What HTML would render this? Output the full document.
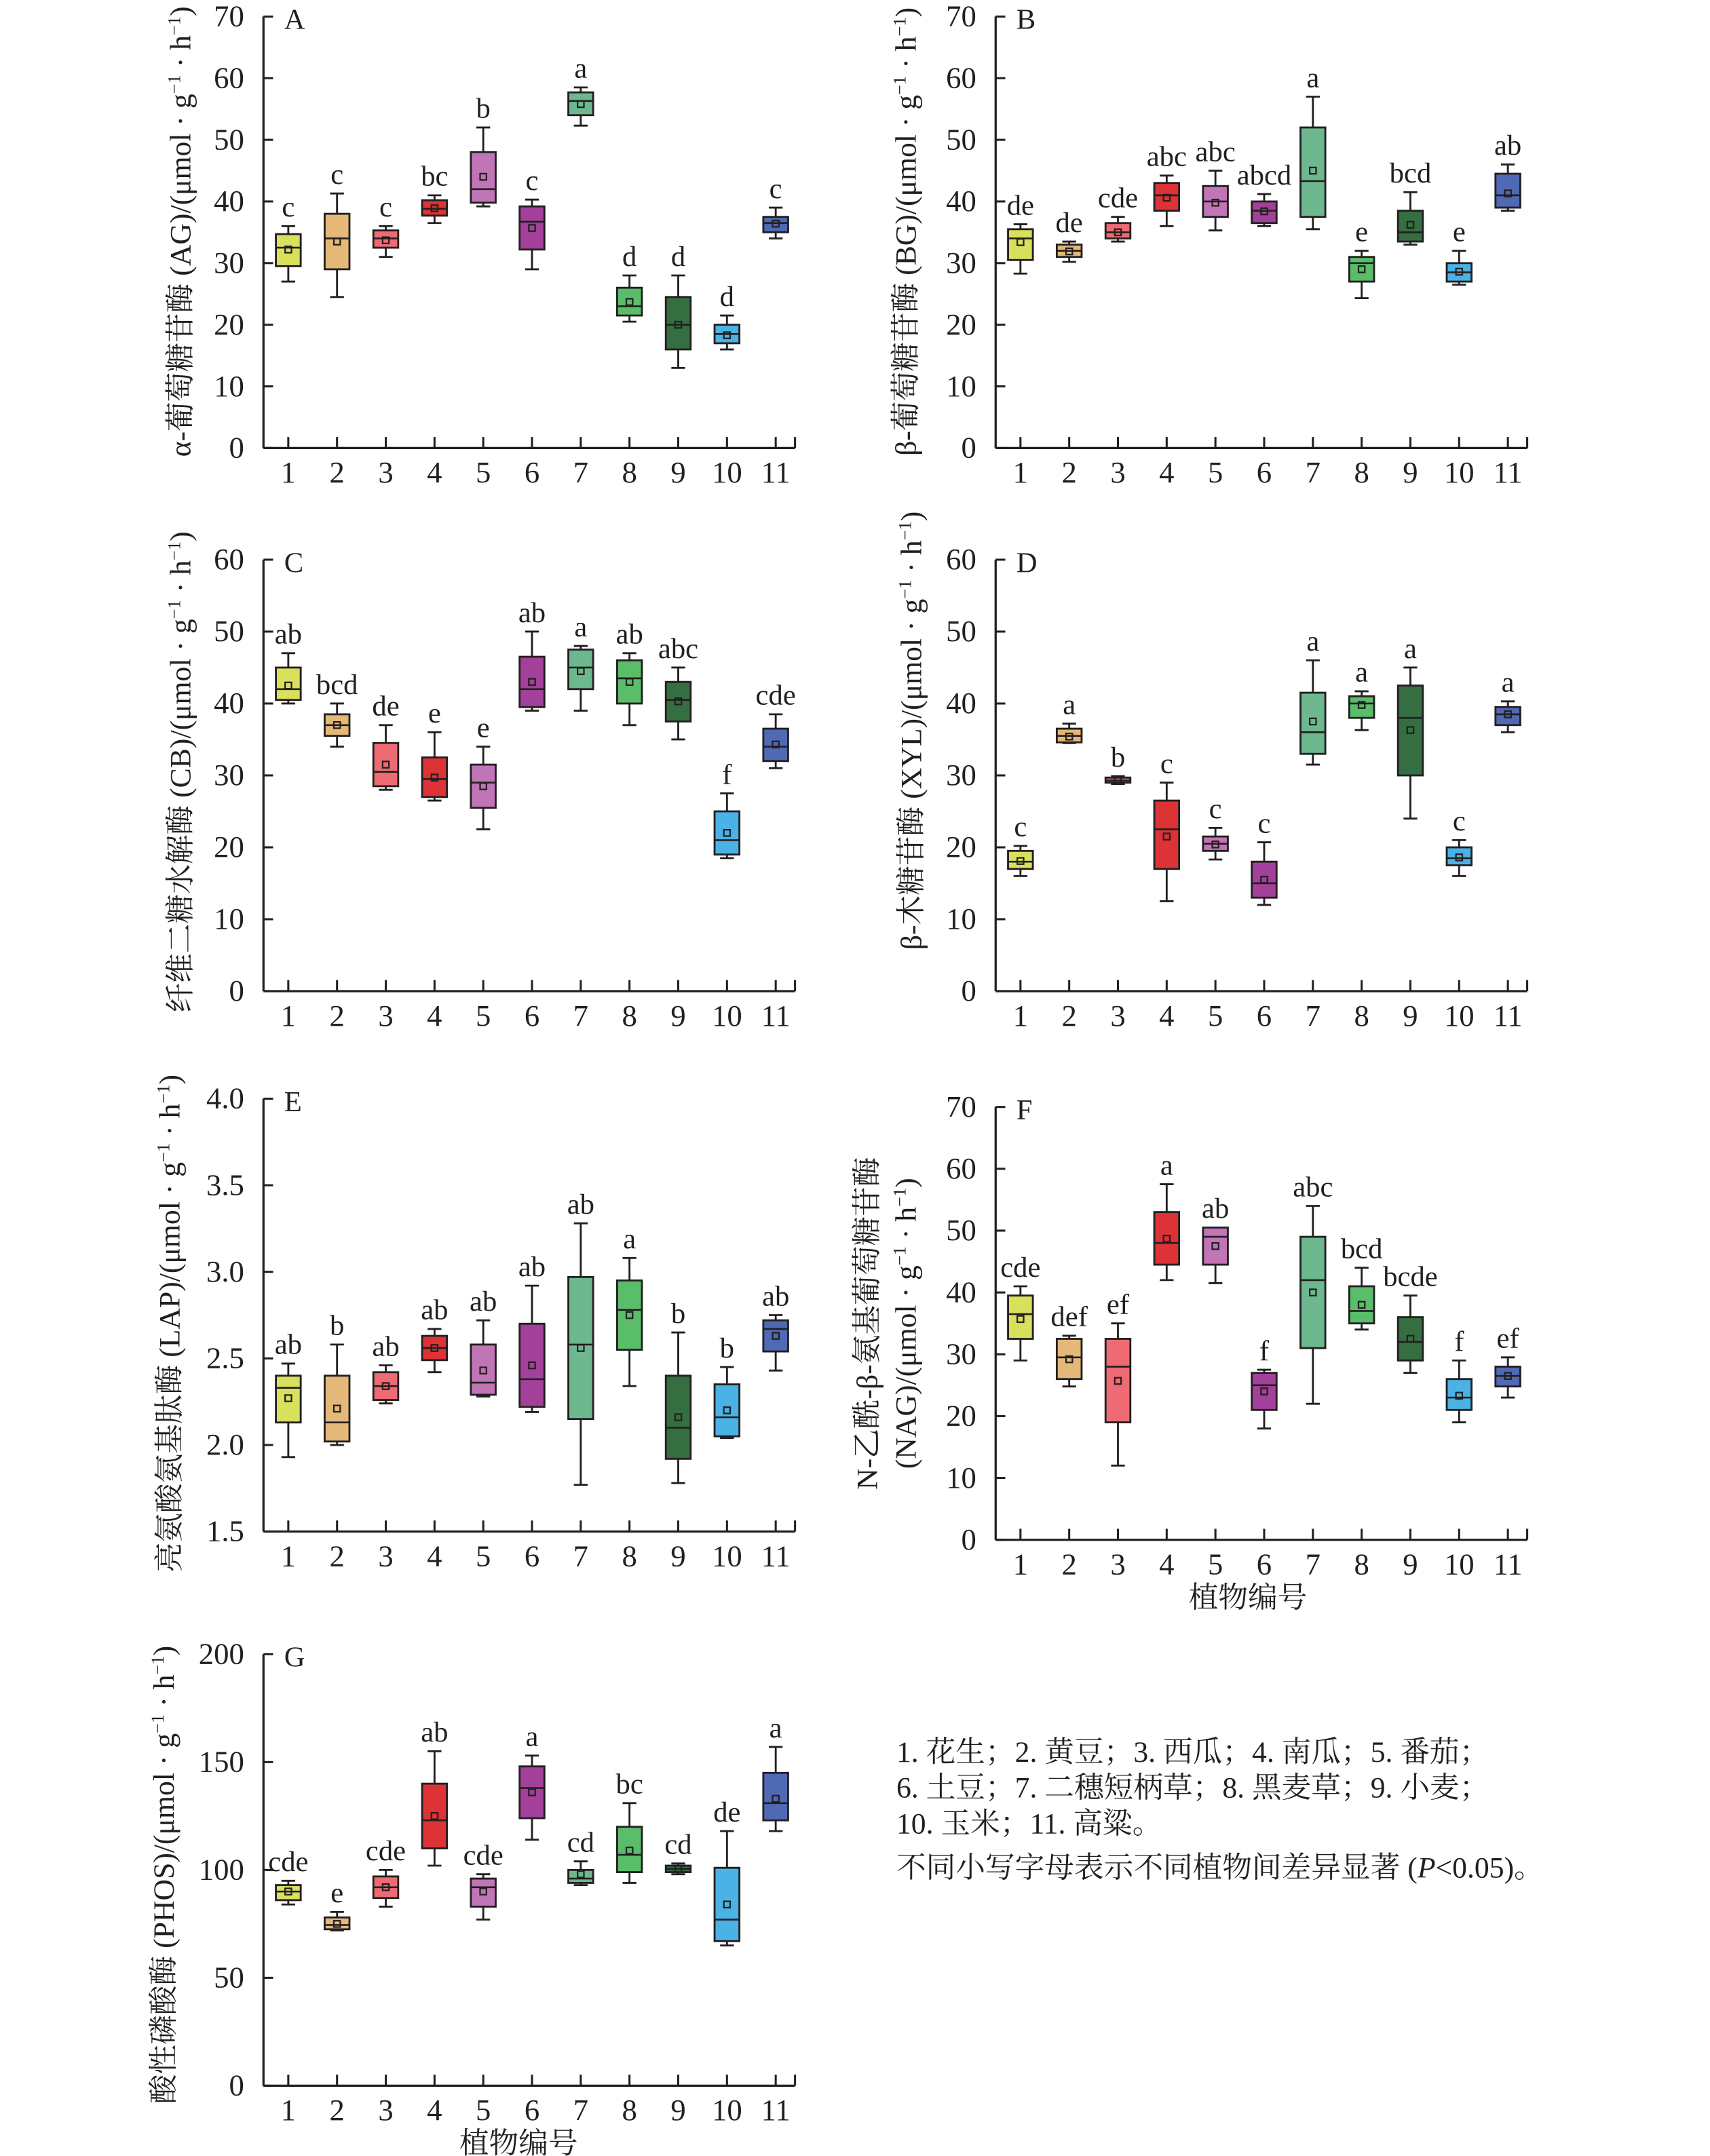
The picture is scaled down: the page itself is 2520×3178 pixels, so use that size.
<!DOCTYPE html>
<html><head><meta charset="utf-8"><style>
html,body{margin:0;padding:0;background:#fff;}
svg{display:block;}
text{font-family:"Liberation Serif","Noto Serif CJK SC","Noto Sans CJK SC",serif;fill:#231f20;}
</style></head><body>
<svg id="s" width="2520" height="3178" viewBox="0 0 1240 1564" xmlns="http://www.w3.org/2000/svg">
<g font-size="21.5">
<text transform="translate(138,168) rotate(-90)" text-anchor="middle">α-葡萄糖苷酶 (AG)/(μmol · g<tspan baseline-shift="super" font-size="13">−1</tspan> · h<tspan baseline-shift="super" font-size="13">−1</tspan>)</text>
<text transform="translate(664,168) rotate(-90)" text-anchor="middle">β-葡萄糖苷酶 (BG)/(μmol · g<tspan baseline-shift="super" font-size="13">−1</tspan> · h<tspan baseline-shift="super" font-size="13">−1</tspan>)</text>
<text transform="translate(138,560) rotate(-90)" text-anchor="middle">纤维二糖水解酶 (CB)/(μmol · g<tspan baseline-shift="super" font-size="13">−1</tspan> · h<tspan baseline-shift="super" font-size="13">−1</tspan>)</text>
<text transform="translate(668,530) rotate(-90)" text-anchor="middle">β-木糖苷酶 (XYL)/(μmol · g<tspan baseline-shift="super" font-size="13">−1</tspan> · h<tspan baseline-shift="super" font-size="13">−1</tspan>)</text>
<text transform="translate(130,960) rotate(-90)" text-anchor="middle">亮氨酸氨基肽酶 (LAP)/(μmol · g<tspan baseline-shift="super" font-size="13">−1</tspan> · h<tspan baseline-shift="super" font-size="13">−1</tspan>)</text>
<text transform="translate(636,960) rotate(-90)" text-anchor="middle">N-乙酰-β-氨基葡萄糖苷酶</text>
<text transform="translate(664,960) rotate(-90)" text-anchor="middle">(NAG)/(μmol · g<tspan baseline-shift="super" font-size="13">−1</tspan> · h<tspan baseline-shift="super" font-size="13">−1</tspan>)</text>
<text transform="translate(126,1360) rotate(-90)" text-anchor="middle">酸性磷酸酶 (PHOS)/(μmol · g<tspan baseline-shift="super" font-size="13">−1</tspan> · h<tspan baseline-shift="super" font-size="13">−1</tspan>)</text>
<text x="905" y="1166" text-anchor="middle">植物编号</text>
<text x="376" y="1562" text-anchor="middle">植物编号</text>
<text x="650" y="1278">1. 花生；2. 黄豆；3. 西瓜；4. 南瓜；5. 番茄；</text>
<text x="650" y="1304">6. 土豆；7. 二穗短柄草；8. 黑麦草；9. 小麦；</text>
<text x="650" y="1330">10. 玉米；11. 高粱。</text>
<text x="650" y="1362">不同小写字母表示不同植物间差异显著 (<tspan font-style="italic">P</tspan>&lt;0.05)。</text>
</g>
<g id="plots"></g>
</svg>
<script>
var C=["#d8e05c","#e3b878","#ef6b73","#dd3236","#c275b6","#a2409a","#6db88e","#5abd6a","#356e40","#4bb2e6","#4f69b5"];
var P=[
{L:"A",ax:191,y0:325,y1:12,v0:0,v1:70,tk:[0,10,20,30,40,50,60,70],f:0,
d:[[27,29.5,32.5,34.7,36,32.2,"c"],[24.5,29,34,38,41.3,33.5,"c"],[31,32.5,34,35.3,36,33.7,"c"],[36.5,37.7,38.8,40.2,41,38.9,"bc"],[39.2,39.8,42,48,52,44,"b"],[29,32.2,36.7,39.2,40.3,35.7,"c"],[52.3,54,56.3,57.7,58.5,55.8,"a"],[20.5,21.5,23,26,28,23.7,"d"],[13,16,20,24.5,28,20,"d"],[16,17,18.5,20,21.5,18.3,"d"],[34,35,36.5,37.5,39,36.4,"c"]]},
{L:"B",ax:722,y0:325,y1:12,v0:0,v1:70,tk:[0,10,20,30,40,50,60,70],f:0,
d:[[28.3,30.5,34,35.5,36.3,33.4,"de"],[30.2,31,32,33,33.5,31.9,"de"],[33.5,34,35,36.5,37.5,35,"cde"],[36,38.5,41,43,44.2,40.6,"abc"],[35.3,37.5,40,42.5,45,39.8,"abc"],[36,36.5,38.5,40,41.2,38.4,"abcd"],[35.5,37.5,43.3,52,57,45,"a"],[24.3,27,30,31,32,29,"e"],[33,33.5,35,38.5,41.5,36.2,"bcd"],[26.5,27,28.5,30,32,28.6,"e"],[38.5,39,41,44.5,46,41.3,"ab"]]},
{L:"C",ax:191,y0:719,y1:406,v0:0,v1:60,tk:[0,10,20,30,40,50,60],f:0,
d:[[40,40.5,42,45,47,42.5,"ab"],[34,35.5,37,38.5,40,37,"bcd"],[28,28.5,30.5,34.5,37,31.5,"de"],[26.5,27,29.5,32.5,36,29.7,"e"],[22.5,25.5,29,31.5,34,28.5,"e"],[39,39.5,42,46.5,50,43,"ab"],[39,42,45,47.5,48,44.5,"a"],[37,40,43.5,46,47,43,"ab"],[35,37.5,40.5,43,45,40.3,"abc"],[18.5,19,21,25,27.5,22,"f"],[31,32,34,36.5,38.5,34.3,"cde"]]},
{L:"D",ax:722,y0:719,y1:406,v0:0,v1:60,tk:[0,10,20,30,40,50,60],f:0,
d:[[16,17,18,19.5,20.2,18.1,"c"],[34.5,34.6,35.5,36.5,37.2,35.4,"a"],[28.8,29,29.3,29.7,29.9,29.3,"b"],[12.5,17,22.5,26.5,29,21.5,"c"],[18.3,19.5,20.5,21.5,22.7,20.4,"c"],[12,13,15,18,20.7,15.5,"c"],[31.5,33,36,41.5,46,37.5,"a"],[36.3,38,40,41,41.7,39.8,"a"],[24,30,38,42.5,45,36.3,"a"],[16,17.5,18.5,20,21,18.6,"c"],[36,37,38.5,39.5,40.3,38.5,"a"]]},
{L:"E",ax:191,y0:1111,y1:797,v0:1.5,v1:4.0,tk:[1.5,2.0,2.5,3.0,3.5,4.0],f:1,
d:[[1.93,2.13,2.33,2.40,2.47,2.27,"ab"],[2.0,2.02,2.13,2.40,2.58,2.21,"b"],[2.24,2.26,2.34,2.42,2.46,2.34,"ab"],[2.42,2.49,2.56,2.63,2.67,2.56,"ab"],[2.28,2.29,2.36,2.58,2.72,2.43,"ab"],[2.19,2.22,2.38,2.70,2.92,2.46,"ab"],[1.77,2.15,2.58,2.97,3.28,2.56,"ab"],[2.34,2.55,2.78,2.95,3.08,2.75,"a"],[1.78,1.92,2.10,2.40,2.65,2.16,"b"],[2.04,2.05,2.16,2.35,2.45,2.20,"b"],[2.43,2.54,2.67,2.72,2.75,2.63,"ab"]]},
{L:"F",ax:722,y0:1117,y1:803,v0:0,v1:70,tk:[0,10,20,30,40,50,60,70],f:0,
d:[[29,32.5,36.5,39.5,41,35.7,"cde"],[24.8,26,29.5,32.5,33,29.2,"def"],[12,19,28,32.5,35,25.7,"ef"],[42,44.5,48,53,57.5,48.7,"a"],[41.5,44.5,49,50.5,50.5,47.5,"ab"],[18,21,25,27,27.5,24,"f"],[22,31,42,49,54,40,"abc"],[34,35,37,41,44,38,"bcd"],[27,29,32,36,39.5,32.5,"bcde"],[19,21,23,26,29,23.3,"f"],[23,24.8,26.5,28,29.5,26.5,"ef"]]},
{L:"G",ax:191,y0:1513,y1:1200,v0:0,v1:200,tk:[0,50,100,150,200],f:0,
d:[[84,86,90,93,95,90,"cde"],[72,72.5,74.5,78,80.5,75,"e"],[83,87,92,97,100,92,"cde"],[102,110,123,140,155,125,"ab"],[77,83,92,96,98,90,"cde"],[114,124,138,148,153,136,"a"],[93,94,96,100,104,98,"cd"],[94,99,107,120,131,109,"bc"],[98,99,100.5,102,103,100.5,"cd"],[65,67,77,101,118,84,"de"],[118,123,131,145,157,133,"a"]]}
];
var ns="http://www.w3.org/2000/svg",G=document.getElementById("plots"),K="#231f20";
function el(t,a,txt){var e=document.createElementNS(ns,t);for(var k in a)e.setAttribute(k,a[k]);if(txt!=null)e.textContent=txt;G.appendChild(e);return e;}
P.forEach(function(p){
 var step=35.35,x1=p.ax+18,xe=x1+10*step+14;
 function Y(v){return p.y0+(v-p.v0)/(p.v1-p.v0)*(p.y1-p.y0);}
 el("line",{x1:p.ax,y1:p.y1,x2:p.ax,y2:p.y0,stroke:K,"stroke-width":1.6});
 el("line",{x1:p.ax,y1:p.y0,x2:xe,y2:p.y0,stroke:K,"stroke-width":1.6});
 p.tk.forEach(function(t){var y=Y(t);el("line",{x1:p.ax,y1:y,x2:p.ax+7,y2:y,stroke:K,"stroke-width":1.5});
  el("text",{x:p.ax-14,y:y+7,"text-anchor":"end","font-size":22},p.f?t.toFixed(1):t);});
 el("text",{x:p.ax+15,y:p.y1+9,"font-size":21},p.L);
 el("line",{x1:xe,y1:p.y0,x2:xe,y2:p.y0-8,stroke:K,"stroke-width":1.5});
 p.d.forEach(function(d,i){
  var x=x1+i*step,w=18;
  el("line",{x1:x,y1:p.y0,x2:x,y2:p.y0-8,stroke:K,"stroke-width":1.5});
  el("text",{x:x,y:p.y0+25,"text-anchor":"middle","font-size":22},i+1);
  var ymin=Y(d[0]),yq1=Y(d[1]),ym=Y(d[2]),yq3=Y(d[3]),ymax=Y(d[4]),ya=Y(d[5]);
  el("line",{x1:x,y1:ymin,x2:x,y2:ymax,stroke:K,"stroke-width":1.4});
  el("line",{x1:x-5,y1:ymin,x2:x+5,y2:ymin,stroke:K,"stroke-width":1.4});
  el("line",{x1:x-5,y1:ymax,x2:x+5,y2:ymax,stroke:K,"stroke-width":1.4});
  el("rect",{x:x-w/2,y:yq3,width:w,height:Math.max(1.5,yq1-yq3),fill:C[i],stroke:K,"stroke-width":1.4});
  el("line",{x1:x-w/2,y1:ym,x2:x+w/2,y2:ym,stroke:K,"stroke-width":1.3});
  el("rect",{x:x-2.3,y:ya-2.3,width:4.6,height:4.6,fill:"none",stroke:K,"stroke-width":1.1});
  el("text",{x:x,y:ymax-7,"text-anchor":"middle","font-size":21},d[6]);
 });
});
</script>
</body></html>
